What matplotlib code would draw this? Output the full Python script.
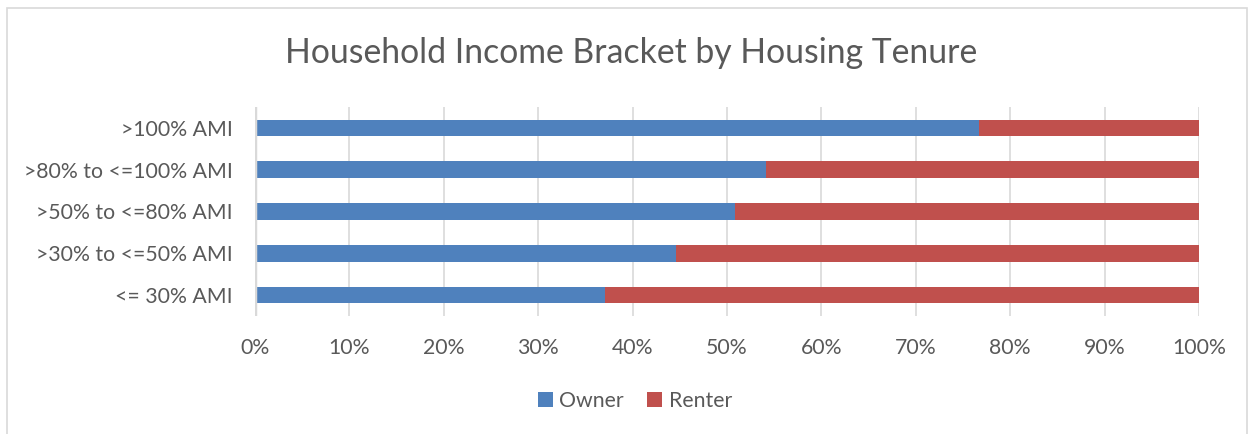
import matplotlib.pyplot as plt
from matplotlib.patches import Rectangle

# Data
categories = ['<= 30% AMI', '>30% to <=50% AMI', '>50% to <=80% AMI',
              '>80% to <=100% AMI', '>100% AMI']
owner = [37.1, 44.6, 50.8, 54.1, 76.7]
renter = [100 - v for v in owner]
xticks = [0, 10, 20, 30, 40, 50, 60, 70, 80, 90, 100]

plt.rcParams['font.family'] = ['Lato', 'DejaVu Sans']
text_color = '#595959'

fig = plt.figure(figsize=(12.52, 4.34), dpi=100)
W, H = 1252, 434
ax = fig.add_axes([255 / W, 1 - 316 / H, (1199 - 255) / W, (316 - 107) / H])

y = range(len(categories))
ax.barh(y, owner, height=0.4, color='#4F81BD', label='Owner', zorder=3)
ax.barh(y, renter, left=owner, height=0.4, color='#C0504D', label='Renter', zorder=3)

ax.set_xlim(0, 100)
ax.set_ylim(-0.5, len(categories) - 0.5)
ax.set_xticks(xticks)
ax.set_xticklabels([f'{t}%' for t in xticks])
ax.set_yticks(list(y))
ax.set_yticklabels(categories)
ax.tick_params(axis='both', length=0, labelsize=15.3, colors=text_color)
ax.tick_params(axis='x', pad=16)
ax.tick_params(axis='y', pad=16)
ax.grid(axis='x', color='#D9D9D9', linewidth=1.2, zorder=0)
for s in ax.spines.values():
    s.set_visible(False)
ax.axvline(0, color='#D9D9D9', linewidth=2.5, zorder=4)

fig.text(631 / W, 1 - 53 / H, 'Household Income Bracket by Housing Tenure',
         ha='center', va='center', fontsize=24.3, color=text_color)

fig.legend(loc='center', bbox_to_anchor=(635 / W, 1 - 401 / H), ncol=2,
           frameon=False, fontsize=15.3, handlelength=0.7, handleheight=0.7,
           handletextpad=0.3, columnspacing=1.1, labelcolor=text_color)

# chart border
fig.patches.append(Rectangle((7 / W, -0.05), (1247 - 7) / W, 1 - 8 / H + 0.05,
                             transform=fig.transFigure, fill=False,
                             edgecolor='#D9D9D9', linewidth=1.2))

plt.savefig('out.png', dpi=100)
